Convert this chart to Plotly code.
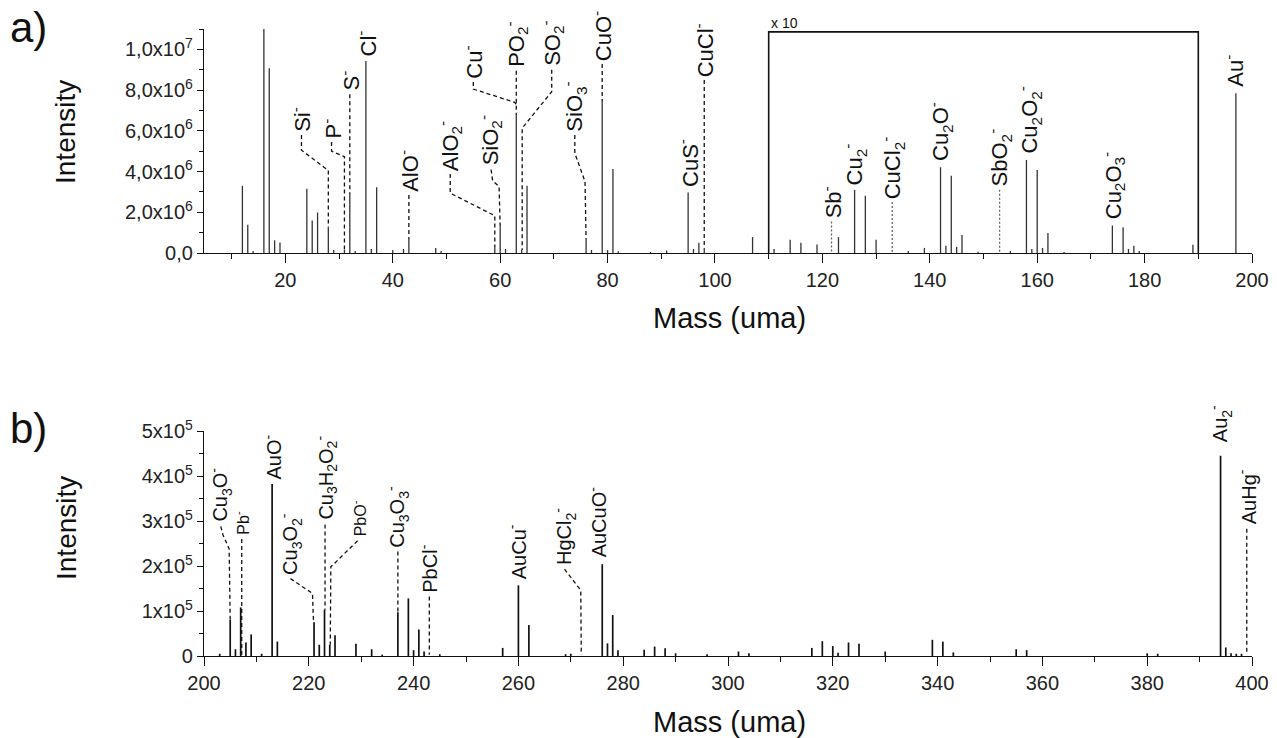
import plotly.graph_objects as go

# ---------------- data (displayed intensities; 110-190 region shown x10) ----------------
top_mass = [12, 13, 14, 16, 17, 18, 19, 24, 25, 26, 28, 29, 31, 32, 33, 35, 36, 37, 40, 42,
            43, 48, 49, 59, 60, 61, 63, 64, 65, 76, 77, 79, 80, 81, 82, 88, 91, 95, 96, 97,
            98, 107, 111, 114, 116, 119, 123, 126, 128, 130, 136, 139, 142, 143, 144, 145,
            146, 149, 155, 158, 159, 160, 161, 162, 165, 174, 176, 177, 178, 179, 189, 197]
top_int = [3.30e6, 1.39e6, 0.10e6, 11.0e6, 9.07e6, 0.62e6, 0.52e6, 3.15e6, 1.60e6, 1.99e6,
           1.27e6, 0.15e6, 0.15e6, 2.89e6, 0.10e6, 9.43e6, 0.20e6, 3.23e6, 0.15e6, 0.20e6,
           0.69e6, 0.25e6, 0.10e6, 0.30e6, 1.30e6, 0.20e6, 6.75e6, 0.15e6, 3.30e6, 0.69e6,
           0.15e6, 7.47e6, 0.15e6, 4.13e6, 0.08e6, 0.05e6, 0.12e6, 2.97e6, 0.20e6, 0.50e6,
           0.25e6, 0.78e6, 0.20e6, 0.65e6, 0.50e6, 0.42e6, 0.78e6, 3.10e6, 2.81e6, 0.65e6,
           0.10e6, 0.25e6, 4.21e6, 0.35e6, 3.79e6, 0.30e6, 0.88e6, 0.06e6, 0.10e6, 4.57e6,
           0.20e6, 4.08e6, 0.25e6, 0.98e6, 0.05e6, 1.35e6, 1.27e6, 0.20e6, 0.35e6, 0.10e6,
           0.40e6, 7.84e6]

bot_mass = [203, 205, 206, 207, 208, 209, 211, 213, 214, 221, 222, 223, 224, 225, 229, 232,
            234, 237, 239, 240, 241, 242, 245, 257, 260, 262, 269, 270, 276, 277, 278, 279,
            284, 286, 288, 290, 296, 302, 304, 316, 318, 320, 321, 323, 325, 330, 339, 341,
            343, 355, 357, 380, 382, 394, 395, 396, 397, 398]
bot_int = [0.05e5, 0.80e5, 0.15e5, 1.08e5, 0.30e5, 0.48e5, 0.05e5, 3.82e5, 0.32e5, 0.75e5,
           0.25e5, 1.03e5, 0.25e5, 0.46e5, 0.27e5, 0.15e5, 0.03e5, 0.97e5, 1.28e5, 0.13e5,
           0.59e5, 0.10e5, 0.04e5, 0.18e5, 1.57e5, 0.69e5, 0.04e5, 0.05e5, 2.04e5, 0.28e5,
           0.91e5, 0.13e5, 0.14e5, 0.21e5, 0.17e5, 0.06e5, 0.04e5, 0.10e5, 0.06e5, 0.18e5,
           0.33e5, 0.22e5, 0.07e5, 0.30e5, 0.27e5, 0.10e5, 0.36e5, 0.32e5, 0.08e5, 0.15e5,
           0.13e5, 0.06e5, 0.05e5, 4.45e5, 0.19e5, 0.06e5, 0.05e5, 0.05e5]

# tick labels
top_x_ticks = [20, 40, 60, 80, 100, 120, 140, 160, 180, 200]
top_y_vals = [0, 2e6, 4e6, 6e6, 8e6, 1e7]
top_y_text = ["0,0", "2,0x10<sup>6</sup>", "4,0x10<sup>6</sup>", "6,0x10<sup>6</sup>",
              "8,0x10<sup>6</sup>", "1,0x10<sup>7</sup>"]
bot_x_ticks = [200, 220, 240, 260, 280, 300, 320, 340, 360, 380, 400]
bot_y_vals = [0, 1e5, 2e5, 3e5, 4e5, 5e5]
bot_y_text = ["0", "1x10<sup>5</sup>", "2x10<sup>5</sup>", "3x10<sup>5</sup>",
              "4x10<sup>5</sup>", "5x10<sup>5</sup>"]

# zoom bracket (x10 region)
zoom_lo, zoom_hi, zoom_top = 110, 190, 1.086e7

# labels: text, x, y(bottom of label)
top_labels = [
    ("Si<sup>-</sup>", 23.0, 5.9e6), ("P<sup>-</sup>", 28.6, 5.55e6), ("S<sup>-</sup>", 32.0, 7.92e6),
    ("Cl<sup>-</sup>", 35.0, 9.6e6), ("AlO<sup>-</sup>", 43.0, 2.95e6),
    ("AlO<sub>2</sub><sup>-</sup>", 50.7, 3.98e6), ("SiO<sub>2</sub><sup>-</sup>", 58.2, 4.23e6),
    ("Cu<sup>-</sup>", 55.0, 8.5e6), ("PO<sub>2</sub><sup>-</sup>", 62.9, 9.08e6),
    ("SO<sub>2</sub><sup>-</sup>", 69.6, 9.13e6), ("SiO<sub>3</sub><sup>-</sup>", 73.9, 5.9e6),
    ("CuO<sup>-</sup>", 79.0, 9.38e6), ("CuS<sup>-</sup>", 95.0, 3.2e6),
    ("CuCl<sup>-</sup>", 98.0, 8.59e6), ("Sb<sup>-</sup>", 121.7, 1.63e6),
    ("Cu<sub>2</sub><sup>-</sup>", 126.0, 3.25e6), ("CuCl<sub>2</sub><sup>-</sup>", 133.1, 2.6e6),
    ("Cu<sub>2</sub>O<sup>-</sup>", 142.0, 4.47e6), ("SbO<sub>2</sub><sup>-</sup>", 153.0, 3.2e6),
    ("Cu<sub>2</sub>O<sub>2</sub><sup>-</sup>", 158.6, 4.82e6),
    ("Cu<sub>2</sub>O<sub>3</sub><sup>-</sup>", 174.2, 1.63e6), ("Au<sup>-</sup>", 196.6, 8.1e6),
]
bot_labels = [
    ("Cu<sub>3</sub>O<sup>-</sup>", 203.2, 2.96e5, 20), ("Pb<sup>-</sup>", 207.3, 2.68e5, 16),
    ("AuO<sup>-</sup>", 213.0, 3.89e5, 20), ("Cu<sub>3</sub>O<sub>2</sub><sup>-</sup>", 216.5, 1.79e5, 20),
    ("Cu<sub>3</sub>H<sub>2</sub>O<sub>2</sub><sup>-</sup>", 223.2, 3.0e5, 20),
    ("PbO<sup>-</sup>", 229.6, 2.64e5, 16), ("Cu<sub>3</sub>O<sub>3</sub><sup>-</sup>", 236.9, 2.39e5, 20),
    ("PbCl<sup>-</sup>", 242.8, 1.39e5, 20), ("AuCu<sup>-</sup>", 259.8, 1.68e5, 20),
    ("HgCl<sub>2</sub><sup>-</sup>", 268.7, 2.01e5, 20), ("AuCuO<sup>-</sup>", 275.1, 2.17e5, 20),
    ("Au<sub>2</sub><sup>-</sup>", 394.0, 4.73e5, 20), ("AuHg<sup>-</sup>", 398.9, 2.9e5, 20),
]

# leader lines (data coordinates)
top_dashed = [
    [(23, 5.8e6), (23, 5.05e6), (28, 4.05e6), (28, 1.27e6)],
    [(28.6, 5.45e6), (28.6, 5.0e6), (31, 4.73e6), (31, 0.15e6)],
    [(32, 7.8e6), (32, 2.89e6)],
    [(43, 2.85e6), (43, 0.69e6)],
    [(50.7, 3.88e6), (50.7, 2.94e6), (59, 1.83e6), (59, 0.3e6)],
    [(58.3, 4.1e6), (58.6, 3.55e6), (59.8, 3.26e6), (60, 1.3e6)],
    [(55, 8.4e6), (55, 8.05e6), (62.7, 7.4e6), (63, 7.3e6)],
    [(63, 8.95e6), (63, 6.75e6)],
    [(69.6, 9.0e6), (69.6, 7.92e6), (64.1, 6.13e6), (64.1, 0.15e6)],
    [(73.9, 5.8e6), (73.9, 4.9e6), (75.8, 3.51e6), (76, 0.69e6)],
    [(79, 9.28e6), (79, 7.47e6)],
    [(98, 8.5e6), (98, 0.25e6)],
]
top_dotted = [
    [(121.7, 1.55e6), (121.7, 0.05e6)],
    [(133.0, 2.5e6), (133.0, 0.05e6)],
    [(153.0, 3.1e6), (153.0, 0.05e6)],
]
bot_dashed = [
    [(203.2, 2.88e5), (203.6, 2.7e5), (204.8, 2.38e5), (205, 0.8e5)],
    [(207.2, 2.6e5), (207.2, 0.03e5)],
    [(216.5, 1.72e5), (220.7, 1.39e5), (220.9, 0.75e5)],
    [(223.1, 2.92e5), (223.1, 1.03e5)],
    [(229.3, 2.56e5), (224.2, 1.98e5), (224.1, 0.25e5)],
    [(237, 2.32e5), (237, 0.97e5)],
    [(243, 1.32e5), (243, 0.03e5)],
    [(268.8, 1.93e5), (271.9, 1.46e5), (272, 0.03e5)],
    [(399, 2.83e5), (399, 0.03e5)],
]

# ---------------- figure ----------------
FONT = "Liberation Sans, Arial, sans-serif"
W, H = 1277, 738
PX_L, PX_R = 204, 1252


def sticks(ms, vs):
    xs, ys = [], []
    for m, v in zip(ms, vs):
        xs += [m, m, None]
        ys += [0, v, None]
    return xs, ys


def polylines(lines):
    xs, ys = [], []
    for ln in lines:
        for (a, b) in ln:
            xs.append(a)
            ys.append(b)
        xs.append(None)
        ys.append(None)
    return xs, ys


fig = go.Figure()

x, y = sticks(top_mass, top_int)
fig.add_trace(go.Scatter(x=x, y=y, mode="lines", line=dict(color="#333333", width=1.3),
                         xaxis="x", yaxis="y", hoverinfo="skip"))
x, y = polylines(top_dashed)
fig.add_trace(go.Scatter(x=x, y=y, mode="lines", line=dict(color="#111111", width=1.3, dash="4px,3px"),
                         xaxis="x", yaxis="y", hoverinfo="skip"))
x, y = polylines(top_dotted)
fig.add_trace(go.Scatter(x=x, y=y, mode="lines", line=dict(color="#666666", width=1.3, dash="2px,2px"),
                         xaxis="x", yaxis="y", hoverinfo="skip"))
fig.add_trace(go.Scatter(x=[zoom_lo, zoom_lo, zoom_hi, zoom_hi], y=[0, zoom_top, zoom_top, 0],
                         mode="lines", line=dict(color="#111111", width=1.6),
                         xaxis="x", yaxis="y", hoverinfo="skip"))

x, y = sticks(bot_mass, bot_int)
fig.add_trace(go.Scatter(x=x, y=y, mode="lines", line=dict(color="#111111", width=1.7),
                         xaxis="x2", yaxis="y2", hoverinfo="skip"))
x, y = polylines(bot_dashed)
fig.add_trace(go.Scatter(x=x, y=y, mode="lines", line=dict(color="#111111", width=1.3, dash="4px,3px"),
                         xaxis="x2", yaxis="y2", hoverinfo="skip"))

ann = []
for t, lx, ly in top_labels:
    ann.append(dict(x=lx, y=ly, xref="x", yref="y", text=t, textangle=-90, showarrow=False,
                    xanchor="center", yanchor="bottom", borderpad=0,
                    font=dict(family=FONT, size=22, color="#111111")))
for t, lx, ly, fs in bot_labels:
    ann.append(dict(x=lx, y=ly, xref="x2", yref="y2", text=t, textangle=-90, showarrow=False,
                    xanchor="center", yanchor="bottom", borderpad=0,
                    font=dict(family=FONT, size=fs, color="#111111")))
ann.append(dict(x=zoom_lo + 0.3, y=zoom_top, xref="x", yref="y", text="x 10", showarrow=False,
                xanchor="left", yanchor="bottom", borderpad=0,
                font=dict(family=FONT, size=14, color="#111111")))

# panel letters and axis titles (paper coordinates)
for txt, px, py, fs, ang in [
    ("a)", 29, 27, 42, 0), ("b)", 28, 428, 42, 0),
    ("Intensity", 66, 132, 28, -90), ("Intensity", 66, 528, 28, -90),
    ("Mass (uma)", 729, 318, 29, 0), ("Mass (uma)", 729, 722, 29, 0),
]:
    ann.append(dict(x=px / W, y=1 - py / H, xref="paper", yref="paper", text=txt, textangle=ang,
                    showarrow=False, xanchor="center", yanchor="middle",
                    font=dict(family=FONT, size=fs, color="#111111")))

axis_common = dict(showline=True, linecolor="#111111", linewidth=1.3, showgrid=False, zeroline=False,
                   ticks="outside", tickcolor="#111111", tickwidth=1.3, automargin=False,
                   tickfont=dict(family=FONT, size=20, color="#222222"))

fig.update_layout(
    width=W, height=H, margin=dict(l=0, r=0, t=0, b=0, autoexpand=False),
    paper_bgcolor="white", plot_bgcolor="white", showlegend=False,
    annotations=ann,
    xaxis=dict(domain=[PX_L / W, PX_R / W], anchor="y", range=[4.85, 200],
               tickmode="array", tickvals=top_x_ticks, ticklen=9,
               minor=dict(tickmode="linear", tick0=0, dtick=10, ticklen=5, tickcolor="#111111", ticks="outside"),
               **axis_common),
    yaxis=dict(domain=[1 - 253 / H, 1 - 29 / H], anchor="x", range=[0, 1.1e7],
               tickmode="array", tickvals=top_y_vals, ticktext=top_y_text, ticklen=6,
               minor=dict(tickmode="linear", tick0=0, dtick=1e6, ticklen=4, tickcolor="#111111", ticks="outside"),
               **axis_common),
    xaxis2=dict(domain=[PX_L / W, PX_R / W], anchor="y2", range=[200, 400],
                tickmode="array", tickvals=bot_x_ticks, ticklen=9,
                minor=dict(tickmode="linear", tick0=0, dtick=10, ticklen=5, tickcolor="#111111", ticks="outside"),
                **axis_common),
    yaxis2=dict(domain=[1 - 656 / H, 1 - 431 / H], anchor="x2", range=[0, 5e5],
                tickmode="array", tickvals=bot_y_vals, ticktext=bot_y_text, ticklen=6,
                minor=dict(tickmode="linear", tick0=0, dtick=5e4, ticklen=4, tickcolor="#111111", ticks="outside"),
                **axis_common),
)

fig.write_html("out.html")
